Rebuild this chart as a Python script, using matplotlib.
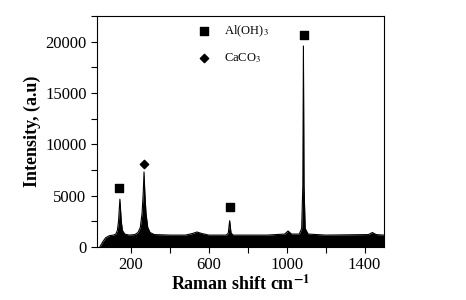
import matplotlib
matplotlib.use("Agg")
import matplotlib.pyplot as plt
from matplotlib.ticker import MultipleLocator, FixedLocator

# Raman spectrum, upper envelope
shift_cm = [40, 55, 70, 90, 110, 122, 130, 136, 143, 150, 156, 168, 190, 220, 236,
            248, 257, 263, 267, 271, 277, 286, 298, 320, 400, 480, 515, 539, 565,
            600, 690, 700, 707, 714, 725, 900, 990, 1007, 1025, 1065, 1077, 1083,
            1086, 1089, 1095, 1110, 1200, 1420, 1440, 1460, 1500]
intensity = [0, 500, 900, 1100, 1150, 1250, 1600, 2500, 4650, 2500, 1600, 1250,
             1150, 1200, 1400, 1900, 3300, 5300, 7300, 5300, 3300, 1900, 1400, 1200,
             1150, 1150, 1300, 1450, 1300, 1150, 1150, 1350, 2550, 1350, 1150, 1150,
             1250, 1550, 1250, 1250, 1800, 6000, 19570, 6000, 1800, 1250, 1150, 1200,
             1400, 1200, 1150]

# peak assignment markers
aloh_x = [138, 707, 1090]
aloh_y = [5770, 3920, 20680]
caco_x = [267]
caco_y = [8070]

SERIF = ["Liberation Serif", "DejaVu Serif"]
plt.rcParams["font.family"] = SERIF
plt.rcParams["mathtext.fontset"] = "stix"

fig = plt.figure(figsize=(4.66, 3.0), dpi=100)
ax = fig.add_axes([0.208, 0.177, 0.616, 0.770])

ax.fill_between(shift_cm, 0, intensity, color="black", linewidth=0)
ax.plot(shift_cm, intensity, color="black", linewidth=0.8)

sq = ax.scatter(aloh_x, aloh_y, marker="s", s=40, color="black", zorder=4)
di = ax.scatter(caco_x, caco_y, marker="D", s=18, color="black", zorder=4)

ax.legend([sq, di], ["Al(OH)$_3$", "CaCO$_3$"], frameon=False, fontsize=9,
          loc="upper left", bbox_to_anchor=(0.29, 1.015), handletextpad=0.6,
          labelspacing=0.95, scatterpoints=1)

ax.set_xlim(25, 1500)
ax.set_ylim(0, 22500)
ax.xaxis.set_major_locator(FixedLocator([200, 600, 1000, 1400]))
ax.xaxis.set_minor_locator(FixedLocator([400, 800, 1200]))
ax.yaxis.set_major_locator(MultipleLocator(5000))
ax.yaxis.set_minor_locator(MultipleLocator(2500))
ax.tick_params(which="both", direction="out", length=4, width=0.8, labelsize=12,
               top=False, right=False)

ax.set_xlabel("Raman shift cm$^{\\mathbf{-1}}$", fontsize=13, fontweight="bold", labelpad=1)
ax.set_ylabel("Intensity, (a.u)", fontsize=13, fontweight="bold", labelpad=3)

plt.savefig("out.png", dpi=100, facecolor="white")
plt.close(fig)
